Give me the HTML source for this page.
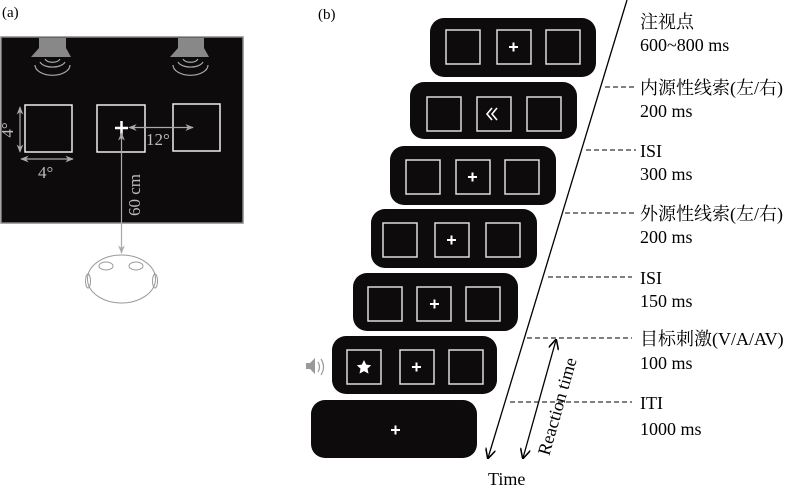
<!DOCTYPE html>
<html><head><meta charset="utf-8"><style>
html,body{margin:0;padding:0;background:#fff;width:800px;height:486px;overflow:hidden}
svg{display:block}
text{font-family:"Liberation Serif","Noto Serif CJK SC",serif}
</style></head><body>
<svg width="800" height="486" viewBox="0 0 800 486" xmlns="http://www.w3.org/2000/svg">
<defs>
<marker id="ag" viewBox="0 0 10 10" refX="9" refY="5" markerWidth="7" markerHeight="7" orient="auto-start-reverse"><path d="M0,1 L10,5 L0,9 L3,5z" fill="#aaa"/></marker>
<marker id="ab" viewBox="0 0 10 10" refX="9" refY="5" markerWidth="8" markerHeight="8" orient="auto-start-reverse"><path d="M0,0 L10,5 L0,10" fill="none" stroke="#000" stroke-width="1.5"/></marker>
</defs>
<text x="2" y="17" font-size="15">(a)</text>
<rect x="1" y="37" width="242" height="186" fill="#0d0b0b" stroke="#888" stroke-width="1.5"/>
<g fill="#888">
<path d="M39,38 H66 V48 L71,57 H31 L39,48Z"/>
<path d="M178,38 H204 V48 L209,57 H170 L178,48Z"/>
</g>
<g fill="none" stroke="#aaa" stroke-width="1.2">
<path d="M45,59 A8,5 0 0 0 60,59"/><path d="M40,62 A13,7 0 0 0 65,62"/><path d="M35,65 A17,10 0 0 0 70,65"/>
<path d="M183,59 A8,5 0 0 0 198,59"/><path d="M178,62 A13,7 0 0 0 203,62"/><path d="M173,65 A17,10 0 0 0 208,65"/>
</g>
<g fill="none" stroke="#eee" stroke-width="1.5">
<rect x="25" y="105" width="47" height="47"/>
<rect x="97" y="105" width="48" height="47"/>
<rect x="173" y="104" width="47" height="47"/>
</g>
<path d="M115,128 H128 M121.5,121 V135" stroke="#fff" stroke-width="2.5"/>
<g stroke="#aaa" stroke-width="1.2" fill="none">
<line x1="129" y1="127.5" x2="193" y2="127.5" marker-start="url(#ag)" marker-end="url(#ag)"/>
<line x1="20" y1="107" x2="20" y2="152" marker-start="url(#ag)" marker-end="url(#ag)"/>
<line x1="21" y1="159" x2="73" y2="159" marker-start="url(#ag)" marker-end="url(#ag)"/>
<line x1="121.5" y1="133" x2="121.5" y2="253" marker-start="url(#ag)" marker-end="url(#ag)"/>
</g>
<g fill="#bbb" font-size="17">
<text x="146" y="145">12°</text>
<text x="38" y="178">4°</text>
<text transform="translate(13,130) rotate(-90)" text-anchor="middle">4°</text>
<text transform="translate(140,195) rotate(-90)" text-anchor="middle">60 cm</text>
</g>
<g fill="none" stroke="#999" stroke-width="1">
<ellipse cx="121.5" cy="279" rx="34" ry="24"/>
<ellipse cx="106" cy="266" rx="7" ry="4"/>
<ellipse cx="136" cy="266" rx="7" ry="4"/>
<ellipse cx="88" cy="281" rx="2.5" ry="7"/>
<ellipse cx="155" cy="281" rx="2.5" ry="7"/>
</g>
<text x="318" y="19" font-size="15">(b)</text>
<g fill="#0d0b0b">
<rect x="430" y="18" width="166" height="59" rx="14"/>
<rect x="410" y="82" width="167" height="57" rx="14"/>
<rect x="390" y="146" width="166" height="59" rx="14"/>
<rect x="371" y="209" width="166" height="59" rx="14"/>
<rect x="353" y="273" width="165" height="58" rx="14"/>
<rect x="332" y="336" width="165" height="58" rx="14"/>
<rect x="311" y="400" width="166" height="58" rx="14"/>
</g>
<g fill="none" stroke="#ddd" stroke-width="1.5">
<rect x="446" y="30" width="34" height="34"/><rect x="497" y="30" width="34" height="34"/><rect x="546" y="30" width="34" height="34"/>
<rect x="427" y="97" width="34" height="34"/><rect x="477" y="97" width="34" height="34"/><rect x="527" y="97" width="34" height="34"/>
<rect x="406" y="160" width="34" height="34"/><rect x="456" y="160" width="34" height="34"/><rect x="505" y="160" width="34" height="34"/>
<rect x="383" y="223" width="34" height="34"/><rect x="435" y="223" width="34" height="34"/><rect x="486" y="223" width="34" height="34"/>
<rect x="368" y="287" width="34" height="34"/><rect x="417" y="287" width="34" height="34"/><rect x="466" y="287" width="34" height="34"/>
<rect x="347" y="350" width="34" height="34"/><rect x="400" y="350" width="34" height="34"/><rect x="449" y="350" width="34" height="34"/>
</g>
<g stroke="#fff" stroke-width="2">
<path d="M509,47 h9 M513.5,42.5 v9"/>
<path d="M468,177 h9 M472.5,172.5 v9"/>
<path d="M447,240 h9 M451.5,235.5 v9"/>
<path d="M430,304 h9 M434.5,299.5 v9"/>
<path d="M412,367 h9 M416.5,362.5 v9"/>
<path d="M391,430 h9 M395.5,425.5 v9"/>
</g>
<path d="M492,108 l-5,6 l5,6 M497,108 l-5,6 l5,6" stroke="#fff" stroke-width="1.6" fill="none"/>
<path d="M364,360 l2.2,4.6 5,.6 -3.7,3.4 1,5 -4.5,-2.5 -4.5,2.5 1,-5 -3.7,-3.4 5,-.6z" fill="#fff"/>
<path d="M306,363 h4 l5,-5 v16 l-5,-5 h-4z" fill="#999"/>
<path d="M318,362 q3,5 0,10 M321,359 q5,8 0,16" stroke="#999" fill="none" stroke-width="1.2"/>
<line x1="627" y1="0" x2="488" y2="458" stroke="#000" stroke-width="1.3" marker-end="url(#ab)"/>
<line x1="556" y1="340" x2="523" y2="458" stroke="#000" stroke-width="1.3" marker-start="url(#ab)" marker-end="url(#ab)"/>
<g stroke="#000" stroke-width="1" stroke-dasharray="5,3">
<line x1="605" y1="87" x2="636" y2="87"/>
<line x1="586" y1="150" x2="636" y2="150"/>
<line x1="565" y1="213" x2="636" y2="213"/>
<line x1="548" y1="277" x2="632" y2="277"/>
<line x1="527" y1="338" x2="632" y2="338"/>
<line x1="510" y1="402" x2="632" y2="402"/>
</g>
<g font-size="18" fill="#000">
<text x="640" y="28">注视点</text><text x="640" y="51">600~800 ms</text>
<text x="640" y="94">内源性线索(左/右)</text><text x="640" y="117">200 ms</text>
<text x="640" y="157">ISI</text><text x="640" y="180">300 ms</text>
<text x="640" y="220">外源性线索(左/右)</text><text x="640" y="243">200 ms</text>
<text x="640" y="284">ISI</text><text x="640" y="307">150 ms</text>
<text x="640" y="345">目标刺激(V/A/AV)</text><text x="640" y="369">100 ms</text>
<text x="640" y="409">ITI</text><text x="640" y="435">1000 ms</text>
<text x="488" y="485">Time</text>
<text transform="translate(563,408) rotate(-74)" text-anchor="middle">Reaction time</text>
</g>
</svg>
</body></html>
